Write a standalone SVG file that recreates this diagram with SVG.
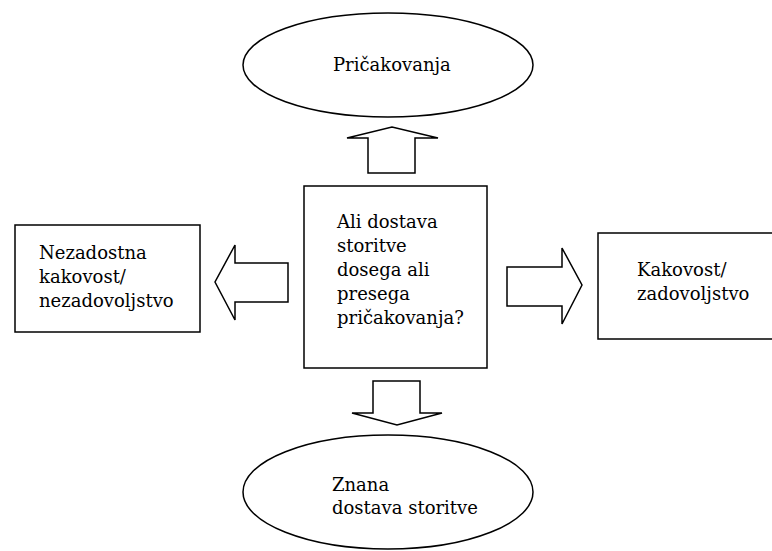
<svg xmlns="http://www.w3.org/2000/svg" width="772" height="551" viewBox="0 0 772 551">
<style>
.s{fill:#fff;stroke:#000;stroke-width:1.5}
.a{fill:#fff;stroke:#000;stroke-width:1.5;stroke-linejoin:miter}
text{font-family:"DejaVu Serif","Liberation Serif",serif;font-size:18px;fill:#000}
</style>
<rect width="772" height="551" fill="#fff"/>
<g id="connectors">
<polygon class="a" points="368,173 368,138 347,138 392,127 438,138 415,138 415,173"/>
<polygon class="a" points="288,263 235,263 235,245 215,282 235,320 235,302 288,302"/>
<polygon class="a" points="507,267 562,267 562,248 582,285 562,324 562,306 507,306"/>
<polygon class="a" points="373,381 420,381 420,413 442,413 397,425 352,413 373,413"/>
</g>
<g id="expectations">
<ellipse class="s" cx="388" cy="65" rx="145" ry="52"/>
<text x="333" y="71">Pričakovanja</text>
</g>
<g id="question">
<rect class="s" x="304" y="186" width="183" height="182"/>
<text x="337" y="228">Ali dostava</text>
<text x="337" y="252">storitve</text>
<text x="337" y="276">dosega ali</text>
<text x="337" y="300">presega</text>
<text x="337" y="324">pričakovanja?</text>
</g>
<g id="bad">
<rect class="s" x="15" y="225" width="185" height="107"/>
<text x="39" y="259">Nezadostna</text>
<text x="39" y="283">kakovost/</text>
<text x="39" y="307">nezadovoljstvo</text>
</g>
<g id="good">
<rect class="s" x="598" y="233" width="190" height="106"/>
<text x="637" y="276">Kakovost/</text>
<text x="637" y="300">zadovoljstvo</text>
</g>
<g id="known">
<ellipse class="s" cx="388" cy="492" rx="145" ry="57"/>
<text x="332" y="491">Znana</text>
<text x="332" y="514">dostava storitve</text>
</g>
</svg>
